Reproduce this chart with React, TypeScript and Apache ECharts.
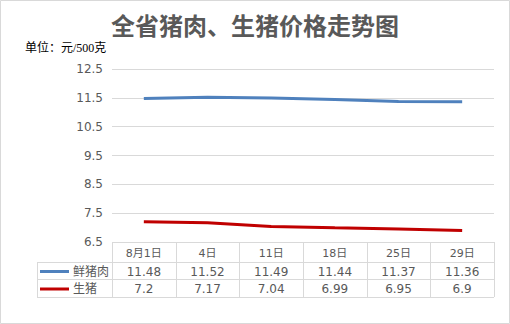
import React, { useEffect, useRef } from "react";
import * as echarts from "echarts";

const categories = ["8月1日", "4日", "11日", "18日", "25日", "29日"];
const porkValues = [11.48, 11.52, 11.49, 11.44, 11.37, 11.36];
const pigValues = [7.2, 7.17, 7.04, 6.99, 6.95, 6.9];
const seriesNames = ["鲜猪肉", "生猪"];
const seriesColors = ["#4f81bd", "#c00000"];
const yTicks = [6.5, 7.5, 8.5, 9.5, 10.5, 11.5, 12.5];

const W = 510;
const H = 324;
const GL = 112;
const GR = 494;
const GT = 69;
const GB = 242;
const LEG_L = 37;
const ROWS = [242, 262, 279, 297];
const LINE_C = "#d9d9d9";
const TEXT_C = "#595959";
const FONT = "'DejaVu Sans', 'Noto Sans CJK SC', sans-serif";

export default function App() {
  const ref = useRef<HTMLDivElement>(null);
  useEffect(() => {
    if (!ref.current) return;
    const chart = echarts.init(ref.current, undefined, { renderer: "svg" });
    const colW = (GR - GL) / categories.length;
    const graphics: any[] = [];
    graphics.push({
      type: "rect",
      shape: { x: 0.5, y: 0.5, width: W - 1, height: H - 1 },
      style: { fill: "none", stroke: LINE_C, lineWidth: 1 },
      z: 0,
    });
    graphics.push({
      type: "text",
      x: W / 2,
      y: 24,
      style: {
        text: "全省猪肉、生猪价格走势图",
        fill: TEXT_C,
        font: "bold 24px 'Noto Sans CJK SC', sans-serif",
        align: "center",
        verticalAlign: "middle",
      },
    });
    graphics.push({
      type: "text",
      x: 25,
      y: 48,
      style: {
        text: "单位：元/500克",
        fill: "#000",
        font: "12px 'Liberation Serif', 'Noto Sans CJK SC', serif",
        align: "left",
        verticalAlign: "middle",
      },
    });
    const hline = (x1: number, x2: number, y: number) =>
      graphics.push({
        type: "line",
        shape: { x1, y1: y + 0.5, x2, y2: y + 0.5 },
        style: { stroke: LINE_C, lineWidth: 1 },
      });
    const vline = (x: number, y1: number, y2: number) =>
      graphics.push({
        type: "line",
        shape: { x1: x + 0.5, y1, x2: x + 0.5, y2 },
        style: { stroke: LINE_C, lineWidth: 1 },
      });
    hline(GL, GR, ROWS[0]);
    hline(LEG_L, GR, ROWS[1]);
    hline(LEG_L, GR, ROWS[2]);
    hline(LEG_L, GR, ROWS[3]);
    vline(LEG_L, ROWS[1], ROWS[3]);
    for (let i = 0; i <= categories.length; i++) {
      vline(Math.round(GL + i * colW), ROWS[0], ROWS[3]);
    }
    const rowData = [categories, porkValues.map(String), pigValues.map(String)];
    rowData.forEach((row, r) => {
      row.forEach((t, i) => {
        graphics.push({
          type: "text",
          x: GL + (i + 0.5) * colW,
          y: (ROWS[r] + ROWS[r + 1]) / 2 + 1,
          style: {
            text: t,
            fill: TEXT_C,
            font: (r === 0 ? "11px " : "12px ") + FONT,
            align: "center",
            verticalAlign: "middle",
          },
        });
      });
    });
    seriesNames.forEach((n, s) => {
      const yc = (ROWS[s + 1] + ROWS[s + 2]) / 2 + 1;
      graphics.push({
        type: "line",
        shape: { x1: 40, y1: yc, x2: 69, y2: yc },
        style: { stroke: seriesColors[s], lineWidth: 3 },
      });
      graphics.push({
        type: "text",
        x: 73,
        y: yc,
        style: {
          text: n,
          fill: TEXT_C,
          font: "12px " + FONT,
          align: "left",
          verticalAlign: "middle",
        },
      });
    });

    chart.setOption({
      animation: false,
      backgroundColor: "#fff",
      grid: { left: GL, right: W - GR, top: GT, bottom: H - GB, containLabel: false },
      xAxis: {
        type: "category",
        data: categories,
        boundaryGap: true,
        axisLine: { show: false },
        axisTick: { show: false },
        axisLabel: { show: false },
      },
      yAxis: {
        type: "value",
        min: yTicks[0],
        max: yTicks[yTicks.length - 1],
        interval: 1,
        axisLine: { show: false },
        axisTick: { show: false },
        axisLabel: {
          color: TEXT_C,
          fontSize: 12,
          fontFamily: FONT,
          margin: 9,
          formatter: (v: number) => v.toFixed(1),
        },
        splitLine: { lineStyle: { color: LINE_C, width: 1 } },
      },
      series: [
        {
          name: seriesNames[0],
          type: "line",
          data: porkValues,
          symbol: "none",
          lineStyle: { color: seriesColors[0], width: 3 },
          itemStyle: { color: seriesColors[0] },
        },
        {
          name: seriesNames[1],
          type: "line",
          data: pigValues,
          symbol: "none",
          lineStyle: { color: seriesColors[1], width: 3 },
          itemStyle: { color: seriesColors[1] },
        },
      ],
      graphic: graphics,
    });
    return () => chart.dispose();
  }, []);
  return (
    <div
      ref={ref}
      style={{ position: "fixed", left: 0, top: 0, width: W, height: H }}
    />
  );
}
